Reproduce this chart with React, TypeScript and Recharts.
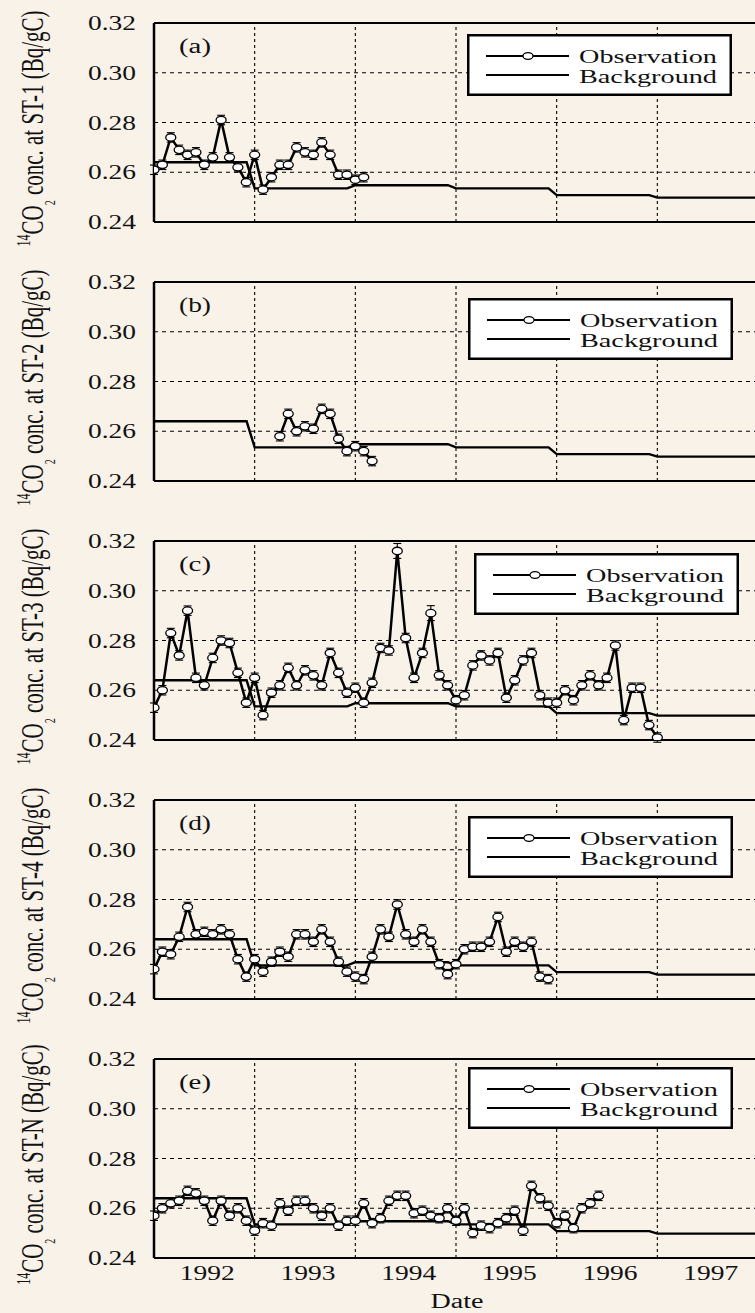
import React from 'react';
import { LineChart, Line, XAxis, YAxis, ReferenceLine, ErrorBar, Legend } from 'recharts';

const FONT = '"Liberation Serif", "Times New Roman", Times, serif';
const PAGE_BG = '#F9F2E9';

// ---- axes / labels ----
const YEAR_LABELS = ['1992', '1993', '1994', '1995', '1996', '1997'];
const YEAR_LABEL_POS = [1992.5, 1993.5, 1994.5, 1995.5, 1996.5, 1997.5];
const YEAR_GRID = [1993, 1994, 1995, 1996, 1997];
const Y_LABEL_TICKS = [0.24, 0.26, 0.28, 0.3, 0.32];
const Y_MINOR_TICKS = [0.24, 0.25, 0.26, 0.27, 0.28, 0.29, 0.3, 0.31, 0.32];
const Y_GRID = [0.26, 0.28, 0.3];

const STATIONS = ['ST-1', 'ST-2', 'ST-3', 'ST-4', 'ST-N'];
const TAGS = ['(a)', '(b)', '(c)', '(d)', '(e)'];

// first observation month (months since Jan 1992)
const START_MONTH = [0, 15, 0, 0, 0];

// ---- observations (Bq/gC), monthly ----
const OBS_A = [0.261, 0.263, 0.274, 0.269, 0.267, 0.268, 0.263, 0.266, 0.281, 0.266, 0.262, 0.256, 0.267, 0.253,
  0.258, 0.263, 0.263, 0.270, 0.268, 0.267, 0.272, 0.267, 0.259, 0.259, 0.257, 0.258];
const OBS_B = [0.258, 0.267, 0.260, 0.262, 0.261, 0.269, 0.267, 0.257, 0.252, 0.254, 0.252, 0.248];
const OBS_C = [0.253, 0.260, 0.283, 0.274, 0.292, 0.265, 0.262, 0.273, 0.280, 0.279, 0.267, 0.255, 0.265, 0.250,
  0.259, 0.262, 0.269, 0.262, 0.268, 0.266, 0.262, 0.275, 0.267, 0.259, 0.261, 0.255, 0.263, 0.277, 0.276, 0.316,
  0.281, 0.265, 0.275, 0.291, 0.266, 0.262, 0.256, 0.258, 0.270, 0.274, 0.272, 0.275, 0.257, 0.264, 0.272, 0.275,
  0.258, 0.255, 0.255, 0.260, 0.256, 0.262, 0.266, 0.262, 0.265, 0.278, 0.248, 0.261, 0.261, 0.246, 0.241];
const OBS_D = [0.252, 0.259, 0.258, 0.265, 0.277, 0.266, 0.267, 0.266, 0.268, 0.266, 0.256, 0.249, 0.256, 0.251,
  0.255, 0.259, 0.257, 0.266, 0.266, 0.263, 0.268, 0.263, 0.255, 0.251, 0.249, 0.248, 0.257, 0.268, 0.265, 0.278,
  0.266, 0.263, 0.268, 0.263, 0.254, 0.250, 0.254, 0.260, 0.261, 0.261, 0.263, 0.273, 0.259, 0.263, 0.261, 0.263,
  0.249, 0.248];
const OBS_E = [0.257, 0.260, 0.262, 0.263, 0.267, 0.266, 0.263, 0.255, 0.263, 0.257, 0.260, 0.255, 0.251, 0.254,
  0.253, 0.262, 0.259, 0.263, 0.263, 0.260, 0.257, 0.260, 0.253, 0.255, 0.255, 0.262, 0.254, 0.256, 0.263, 0.265,
  0.265, 0.258, 0.259, 0.257, 0.256, 0.260, 0.255, 0.260, 0.250, 0.253, 0.252, 0.254, 0.256, 0.259, 0.251, 0.269,
  0.264, 0.261, 0.254, 0.257, 0.252, 0.260, 0.262, 0.265];
const OBS = [OBS_A, OBS_B, OBS_C, OBS_D, OBS_E];

// error bar half-size
const ERR = 0.0019;
const ERR_C_BIG: Record<number, number> = { 29: 0.003, 33: 0.003 };
const ERR_OVERRIDES: Array<Record<number, number>> = [{}, {}, ERR_C_BIG, {}, {}];

// ---- background ----
const BG_X = [1992, 1992.92, 1993, 1993.92, 1994, 1994.92, 1995, 1995.92, 1996, 1996.92, 1997, 1998];
const BG_V = [0.264, 0.264, 0.2535, 0.2535, 0.2548, 0.2548, 0.2535, 0.2535, 0.2508, 0.2508, 0.2498, 0.2498];

// layout
const PANEL_TOP = [23, 282, 541, 800, 1059];
const TOP_M = 22;
const PLOT_H = 199;
const LEGEND_POS = [[467, 11], [468, 16], [474, 12], [468, 16], [468, 8]];

const yearLabel = (v: number) => {
  let best = 0;
  YEAR_LABEL_POS.forEach((pos, i) => {
    if (Math.abs(pos - v) < Math.abs(YEAR_LABEL_POS[best] - v)) best = i;
  });
  return YEAR_LABELS[best];
};

const renderDot = (p: any) => {
  if (p.cx == null || p.cy == null) return <g key={p.index} />;
  return (
    <ellipse key={p.index} cx={p.cx} cy={p.cy} rx={5} ry={3.7} fill="#fff" stroke="#000" strokeWidth={1.3} />
  );
};

const YTick = (p: any) => (
  <text x={p.x} y={p.y} dy={7} textAnchor="end" fontFamily={FONT} fontSize={20} fill="#111"
    textLength={48} lengthAdjust="spacingAndGlyphs">
    {Number(p.payload.value).toFixed(2)}
  </text>
);

const makeYLabel = (station: string) => (props: any) => {
  const vb = props.viewBox || { x: 0, y: TOP_M, width: 154, height: PLOT_H };
  const cy = vb.y + vb.height / 2 + 6;
  return (
    <text transform={`translate(43 ${cy}) rotate(-90) scale(1 1.5)`} textAnchor="middle" fontFamily={FONT}
      fontSize={21} fill="#111">
      <tspan fontSize={12} dy={-9}>14</tspan>
      <tspan dy={9}>CO</tspan>
      <tspan fontSize={10} dy={8}>2</tspan>
      <tspan dy={-8}>{` conc. at ${station} (Bq/gC)`}</tspan>
    </text>
  );
};

const makeTag = (tag: string) => (props: any) => {
  const vb = props.viewBox || { x: 154, y: TOP_M };
  return (
    <text x={vb.x + 25} y={vb.y + 30} fontFamily={FONT} fontSize={20} fill="#111" textLength={32}
      lengthAdjust="spacingAndGlyphs">
      {tag}
    </text>
  );
};

const DateLabel = (props: any) => {
  const vb = props.viewBox || { x: 154, width: 604 };
  return (
    <text x={vb.x + vb.width / 2 + 1} y={TOP_M + PLOT_H + 50} textAnchor="middle" fontFamily={FONT} fontSize={20}
      fill="#111" textLength={53} lengthAdjust="spacingAndGlyphs">
      Date
    </text>
  );
};

const LegendBox = () => (
  <svg width={265} height={62} style={{ display: 'block' }}>
    <rect x={1.25} y={1.25} width={262.5} height={59.5} fill="#fff" stroke="#000" strokeWidth={2.5} />
    <line x1={19} y1={22} x2={102} y2={22} stroke="#000" strokeWidth={2} />
    <ellipse cx={61} cy={22} rx={5} ry={3.4} fill="#fff" stroke="#000" strokeWidth={1.2} />
    <line x1={19} y1={41} x2={102} y2={41} stroke="#000" strokeWidth={2} />
    <text x={112} y={28.5} fontFamily={FONT} fontSize={18} fill="#111" textLength={138}
      lengthAdjust="spacingAndGlyphs">Observation</text>
    <text x={112} y={48.5} fontFamily={FONT} fontSize={18} fill="#111" textLength={138}
      lengthAdjust="spacingAndGlyphs">Background</text>
  </svg>
);

function Panel({ idx }: { idx: number }) {
  const showX = idx === 4;
  const start = START_MONTH[idx];
  const over = ERR_OVERRIDES[idx];
  const obsData = OBS[idx].map((v, i) => ({
    x: 1992 + (start + i) / 12,
    v,
    err: over[i] ?? ERR,
  }));
  const bgData = BG_X.map((x, i) => ({ x, v: BG_V[i] }));
  const chartTop = PANEL_TOP[idx] - TOP_M;
  const height = showX ? 1313 - chartTop : TOP_M + PLOT_H + 50;
  const bottomM = showX ? height - TOP_M - PLOT_H - 50 : 50;
  const [lx, ly] = LEGEND_POS[idx];
  const domX: [number, number] = [1992, 1998];
  const domY: [number, number] = [0.24, 0.32];
  return (
    <div style={{ position: 'absolute', left: 0, top: chartTop }}>
      <LineChart width={770} height={height} margin={{ top: TOP_M, right: 12, bottom: bottomM, left: 0 }}>
        <XAxis xAxisId="x" type="number" dataKey="x" domain={domX} allowDataOverflow orientation="bottom" mirror
          height={1} ticks={YEAR_GRID} interval={0} tickSize={10} tick={false}
          tickLine={{ stroke: '#000', strokeWidth: 1.5 }} axisLine={{ stroke: '#000', strokeWidth: 2 }} />
        <XAxis xAxisId="xt" type="number" domain={domX} allowDataOverflow orientation="top" mirror height={1}
          ticks={YEAR_GRID} interval={0} tickSize={10} tick={false}
          tickLine={{ stroke: '#000', strokeWidth: 1.5 }} axisLine={{ stroke: '#000', strokeWidth: 2 }}
          label={{ content: makeTag(TAGS[idx]) }} />
        {showX && (
          <XAxis xAxisId="xl" type="number" dataKey="x" domain={domX} allowDataOverflow orientation="bottom"
            height={50} ticks={YEAR_LABEL_POS} interval={0} tickFormatter={yearLabel}
            tick={{ fontFamily: FONT, fontSize: 20, fill: '#111', dx: 3, textLength: 55,
              lengthAdjust: 'spacingAndGlyphs' } as any}
            tickLine={false} axisLine={false} tickSize={0} tickMargin={8} label={{ content: DateLabel }} />
        )}
        <YAxis yAxisId="yl" type="number" domain={domY} allowDataOverflow width={154} ticks={Y_LABEL_TICKS}
          interval={0} tick={YTick} tickLine={false} axisLine={false} tickSize={0} tickMargin={18}
          label={{ content: makeYLabel(STATIONS[idx]) }} />
        <YAxis yAxisId="y" type="number" domain={domY} allowDataOverflow orientation="left" mirror width={1}
          ticks={Y_MINOR_TICKS} interval={0} tick={false} tickSize={8}
          tickLine={{ stroke: '#000', strokeWidth: 1.3 }} axisLine={{ stroke: '#000', strokeWidth: 2.5 }} />
        <YAxis yAxisId="yr" type="number" domain={domY} allowDataOverflow orientation="right" mirror width={1}
          ticks={Y_MINOR_TICKS} interval={0} tick={false} tickSize={8}
          tickLine={{ stroke: '#000', strokeWidth: 1.3 }} axisLine={{ stroke: '#000', strokeWidth: 2 }} />
        {Y_GRID.map((v) => (
          <ReferenceLine key={`gy${v}`} xAxisId="x" yAxisId="y" y={v} stroke="#000" strokeWidth={1.1}
            strokeDasharray="4 4" />
        ))}
        {YEAR_GRID.map((v) => (
          <ReferenceLine key={`gx${v}`} xAxisId="x" yAxisId="y" x={v} stroke="#000" strokeWidth={1.1}
            strokeDasharray="3 3" />
        ))}
        <Line xAxisId="x" yAxisId="y" data={bgData} dataKey="v" type="linear" stroke="#000" strokeWidth={2.4}
          dot={false} activeDot={false} isAnimationActive={false} />
        <Line xAxisId="x" yAxisId="y" data={obsData} dataKey="v" type="linear" stroke="#000" strokeWidth={2.5}
          dot={renderDot} activeDot={false} isAnimationActive={false}>
          <ErrorBar dataKey="err" width={4} stroke="#000" strokeWidth={1.1} direction="y" />
        </Line>
        <Legend layout="horizontal" verticalAlign="middle" align="center" content={LegendBox}
          wrapperStyle={{ position: 'absolute', left: lx, top: ly + TOP_M, width: 265, height: 62 }} />
      </LineChart>
    </div>
  );
}

export default function App() {
  return (
    <div style={{ position: 'absolute', left: 0, top: 0, width: 755, height: 1313, overflow: 'hidden',
      background: PAGE_BG }}>
      {[0, 1, 2, 3, 4].map((i) => (
        <Panel key={i} idx={i} />
      ))}
    </div>
  );
}
